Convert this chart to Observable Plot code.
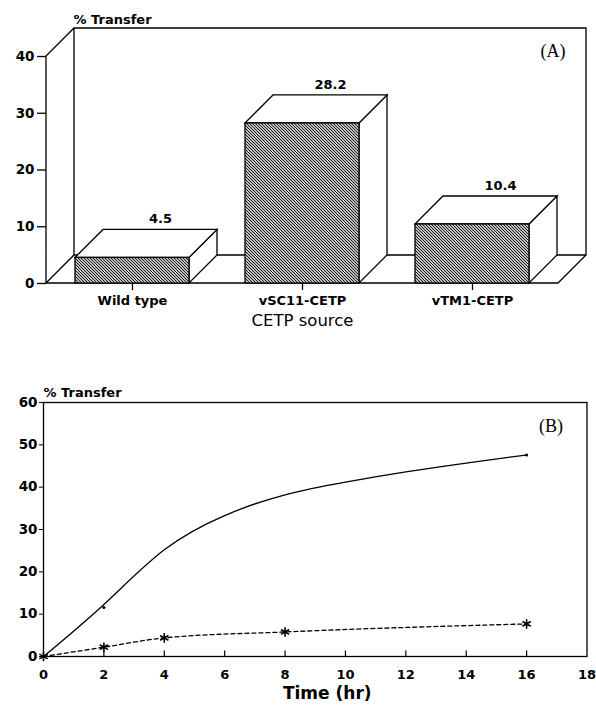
<!DOCTYPE html>
<html><head><meta charset="utf-8">
<script src="https://cdn.jsdelivr.net/npm/d3@7"></script>
<script src="https://cdn.jsdelivr.net/npm/@observablehq/plot@0.6"></script>
<style>
body{margin:0;background:#fff;}
#wrap{position:relative;width:596px;height:708px;background:#fff;}
#a{position:absolute;left:0;top:0}
#b{position:absolute;left:0;top:340px}
</style></head><body><div id="wrap"><div id="a"></div><div id="b"></div></div>
<script>
// ---- Panel A data ----
const categories = ["Wild type", "vSC11-CETP", "vTM1-CETP"];
const transferA = [4.5, 28.2, 10.4];
const yTicksA = [0, 10, 20, 30, 40];

// ---- Panel B data ----
const xTicksB = [0, 2, 4, 6, 8, 10, 12, 14, 16, 18];
const yTicksB = [0, 10, 20, 30, 40, 50, 60];
// solid curve
const solidTimes = [0, 2, 4, 6, 8, 10, 12, 14, 16];
const solidValues = [0, 12.3, 25.2, 33.3, 38.2, 41.2, 43.6, 45.7, 47.6];
// small dots on the solid curve
const solidDotTimes = [2, 16];
const solidDotValues = [11.6, 47.6];
// dashed series with asterisks
const dashedTimes = [0, 2, 4, 8, 16];
const dashedValues = [0, 2.2, 4.4, 5.8, 7.7];

const barData = categories.map((c, i) => ({cat: c, v: transferA[i]}));
const solidData = solidTimes.map((t, i) => ({t, v: solidValues[i]}));
const solidDots = solidDotTimes.map((t, i) => ({t, v: solidDotValues[i]}));
const dashedData = dashedTimes.map((t, i) => ({t, v: dashedValues[i]}));

const SANS_B = "'DejaVu Sans', 'Liberation Sans', Arial, sans-serif";
const DEPTH = 28;

function bars3d(index, scales, values, dimensions) {
  const x = scales.x, y = scales.y;
  let bw = typeof x.bandwidth === "function" ? x.bandwidth() : 0;
  if (!bw && scales.scales && scales.scales.x) bw = scales.scales.x.bandwidth || 0;
  const x0 = dimensions.marginLeft, x1 = dimensions.width - dimensions.marginRight;
  const y0 = y(0), yTop = y(yTicksA[yTicksA.length - 1]);
  const D = DEPTH;
  const g = d3.create("svg:g").attr("stroke", "#000").attr("stroke-width", 1.3).attr("fill", "none");
  const defs = g.append("defs");
  const pat = defs.append("pattern").attr("id", "hatchA").attr("patternUnits", "userSpaceOnUse")
    .attr("width", 3).attr("height", 3);
  pat.append("rect").attr("width", 3).attr("height", 3).attr("fill", "#fff").attr("stroke", "none");
  pat.append("path").attr("d", "M-1,-1L4,4M-1,2L1,4M2,-1L4,1").attr("stroke", "#111").attr("stroke-width", 1.05);
  // walls
  g.append("path").attr("d",
    `M${x0},${y0}L${x0},${yTop}L${x0 + D},${yTop - D}L${x1 + D},${yTop - D}L${x1 + D},${y0 - D}L${x1},${y0}Z` +
    `M${x0},${y0}L${x0 + D},${y0 - D}L${x1 + D},${y0 - D}M${x0 + D},${yTop - D}L${x0 + D},${y0 - D}`);
  // bars
  for (const d of barData) {
    const xl = x(d.cat), xr = xl + bw, yt = y(d.v);
    g.append("path").attr("fill", "#fff")
      .attr("d", `M${xr},${yt}L${xr + D},${yt - D}L${xr + D},${y0 - D}L${xr},${y0}Z`);
    g.append("path").attr("fill", "#fff")
      .attr("d", `M${xl},${yt}L${xl + D},${yt - D}L${xr + D},${yt - D}L${xr},${yt}Z`);
    g.append("rect").attr("x", xl).attr("y", yt).attr("width", bw).attr("height", y0 - yt)
      .attr("fill", "url(#hatchA)");
  }
  return g.node();
}

const chartA = Plot.plot({
  width: 596, height: 340,
  marginLeft: 46, marginRight: 38, marginTop: 56, marginBottom: 57,
  style: {fontFamily: SANS_B, background: "#fff", overflow: "visible"},
  x: {type: "band", domain: categories, paddingInner: 0.33, paddingOuter: 0.165, align: 0.5},
  y: {domain: [0, 40]},
  marks: [
    bars3d,
    Plot.axisY({ticks: yTicksA, tickSize: 9, tickPadding: 3, fontSize: 13.5, fontWeight: "bold", label: null, strokeWidth: 1.3}),
    Plot.axisX({tickSize: 7, tickPadding: 5, fontSize: 13, fontWeight: "bold", label: null, strokeWidth: 1.3}),
    Plot.text(barData, {x: "cat", y: "v", text: d => d.v.toFixed(1), dx: DEPTH, dy: -DEPTH - 11,
      fontSize: 13, fontWeight: "bold"}),
    Plot.text(["CETP source"], {frameAnchor: "bottom", dy: 42, fontSize: 16.5, fontWeight: 500, fontFamily: SANS_B}),
    Plot.text(["% Transfer"], {frameAnchor: "top-left", textAnchor: "start", dx: 27, dy: -42,
      fontSize: 13, fontWeight: "bold"}),
    Plot.text(["(A)"], {frameAnchor: "top-right", dx: 7, dy: -12, fontSize: 18,
      fontFamily: "'Liberation Serif', 'Times New Roman', serif"})
  ]
});
document.getElementById("a").append(chartA);

const chartB = Plot.plot({
  width: 596, height: 368,
  marginLeft: 43, marginRight: 9.5, marginTop: 62, marginBottom: 52,
  style: {fontFamily: SANS_B, background: "#fff", overflow: "visible"},
  x: {domain: [0, 18]},
  y: {domain: [0, 60]},
  marks: [
    Plot.frame({stroke: "#000", strokeWidth: 1.3}),
    Plot.ruleX(xTicksB.filter(t => t > 0 && t < 18), {y1: 0, y2: 1.3, strokeWidth: 1.2}),
    Plot.axisY({ticks: yTicksB, tickSize: 4, tickPadding: 2, fontSize: 13.5, fontWeight: "bold", label: null}),
    Plot.axisX({ticks: xTicksB, tickSize: 0, tickPadding: 13, fontSize: 13, fontWeight: "bold", label: null}),
    Plot.line(solidData, {x: "t", y: "v", curve: "natural", strokeWidth: 1.3, stroke: "#000"}),
    Plot.line(dashedData, {x: "t", y: "v", curve: "monotone-x", strokeWidth: 1.3, stroke: "#000", strokeDasharray: "4,3"}),
    Plot.dot(solidDots, {x: "t", y: "v", r: 1.5, fill: "#000"}),
    Plot.dot(dashedData, {x: "t", y: "v", symbol: "asterisk", r: 4.5, stroke: "#000", strokeWidth: 1.6}),
    Plot.text(["% Transfer"], {frameAnchor: "top-left", textAnchor: "start", dx: 0, dy: -15,
      fontSize: 13, fontWeight: "bold"}),
    Plot.text(["(B)"], {frameAnchor: "top-right", dx: -24, dy: 17, fontSize: 18,
      fontFamily: "'Liberation Serif', 'Times New Roman', serif"}),
    Plot.text(["Time (hr)"], {frameAnchor: "bottom", dx: 12, dy: 42, fontSize: 17, fontWeight: "bold"})
  ]
});
document.getElementById("b").append(chartB);
</script></body></html>
